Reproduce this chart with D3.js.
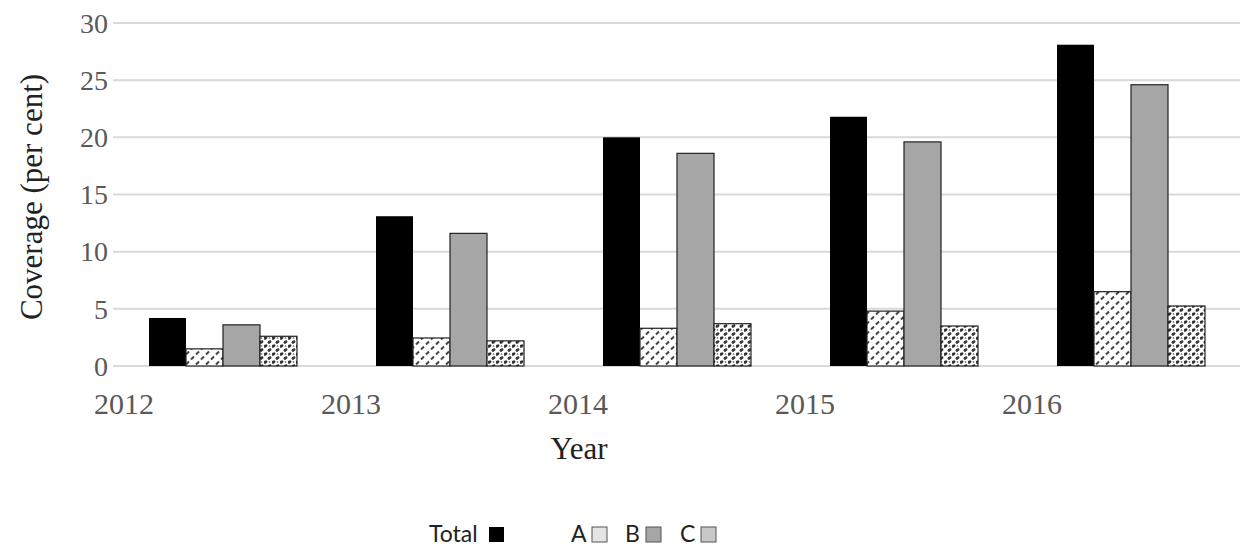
<!DOCTYPE html>
<html>
<head>
<meta charset="utf-8">
<script src="https://cdn.jsdelivr.net/npm/d3@7"></script>
<style>
  body { margin: 0; background: #fff; }
</style>
</head>
<body>
<div id="chart"></div>
<script>
// datos
const years = ['2012', '2013', '2014', '2015', '2016'];
const seriesNames = ['Total', 'A', 'B', 'C'];
const totalVals = [4.2, 13.1, 20.0, 21.8, 28.1];
const aVals = [1.5, 2.45, 3.3, 4.8, 6.5];
const bVals = [3.6, 11.6, 18.6, 19.6, 24.6];
const cVals = [2.6, 2.2, 3.7, 3.5, 5.25];
const yTicks = [0, 5, 10, 15, 20, 25, 30];

const width = 1240;
const height = 547;

const svg = d3.select('#chart')
    .append('svg')
    .attr('width', width)
    .attr('height', height);

// patrones de relleno
const defs = svg.append('defs');

const patA = defs.append('pattern')
    .attr('id', 'patA')
    .attr('patternUnits', 'userSpaceOnUse')
    .attr('width', 10)
    .attr('height', 10);
patA.append('rect').attr('width', 10).attr('height', 10).attr('fill', '#fff');
[[1, 8], [6, 3]].forEach(([px, py]) => {
    patA.append('line')
        .attr('x1', px).attr('y1', py + 1.5)
        .attr('x2', px + 3).attr('y2', py - 1.5)
        .attr('stroke', '#444')
        .attr('stroke-width', 2);
});

const patC = defs.append('pattern')
    .attr('id', 'patC')
    .attr('patternUnits', 'userSpaceOnUse')
    .attr('width', 8)
    .attr('height', 8);
patC.append('rect').attr('width', 8).attr('height', 8).attr('fill', '#fff');
[[1.5, 2], [5.5, 6]].forEach(([px, py]) => {
    patC.append('ellipse')
        .attr('cx', px).attr('cy', py)
        .attr('rx', 2.1).attr('ry', 1.5)
        .attr('transform', `rotate(-35,${px},${py})`)
        .attr('fill', '#333');
});
patC.append('circle').attr('cx', 5.5).attr('cy', 2).attr('r', 0.9).attr('fill', '#888');

const fills = {Total: '#000', A: 'url(#patA)', B: '#a6a6a6', C: 'url(#patC)'};
const legendFills = {Total: '#000', A: '#e4e4e4', B: '#a6a6a6', C: '#c8c8c8'};
const valores = {Total: totalVals, A: aVals, B: bVals, C: cVals};

// escalas
const y = d3.scaleLinear().domain([0, 30]).range([366, 23]);
const x = d3.scaleBand().domain(years).range([124, 1259]).paddingInner(0);
const xSub = d3.scaleBand().domain(seriesNames).range([0, 148]);
const offset = 25;

// lineas de la cuadricula
svg.append('g')
    .selectAll('line')
    .data(yTicks)
    .join('line')
    .attr('x1', 113)
    .attr('x2', 1240)
    .attr('y1', d => y(d))
    .attr('y2', d => y(d))
    .attr('stroke', '#d9d9d9')
    .attr('stroke-width', 2);

// etiquetas eje Y
svg.append('g')
    .selectAll('text')
    .data(yTicks)
    .join('text')
    .attr('x', 108)
    .attr('y', d => y(d))
    .attr('dy', '0.35em')
    .attr('text-anchor', 'end')
    .attr('font-family', 'Liberation Serif, serif')
    .attr('font-size', 28)
    .attr('fill', '#595959')
    .text(d => d);

// barras
seriesNames.forEach(s => {
    svg.append('g')
        .selectAll('rect')
        .data(years.map((yr, i) => ({yr, v: valores[s][i]})))
        .join('rect')
        .attr('x', d => x(d.yr) + offset + xSub(s))
        .attr('y', d => y(d.v))
        .attr('width', xSub.bandwidth())
        .attr('height', d => y(0) - y(d.v))
        .attr('fill', fills[s])
        .attr('stroke', s === 'Total' ? 'none' : '#222')
        .attr('stroke-width', 1.2);
});

// etiquetas eje X
svg.append('g')
    .selectAll('text')
    .data(years)
    .join('text')
    .attr('x', d => x(d))
    .attr('y', 414)
    .attr('text-anchor', 'middle')
    .attr('font-family', 'Liberation Serif, serif')
    .attr('font-size', 30)
    .attr('fill', '#595959')
    .text(d => d);

// titulos de ejes
svg.append('text')
    .attr('x', 579)
    .attr('y', 459)
    .attr('text-anchor', 'middle')
    .attr('font-family', 'Liberation Serif, serif')
    .attr('font-size', 31)
    .attr('fill', '#222')
    .text('Year');

svg.append('text')
    .attr('transform', 'translate(42,197) rotate(-90)')
    .attr('text-anchor', 'middle')
    .attr('font-family', 'Liberation Serif, serif')
    .attr('font-size', 31)
    .attr('fill', '#222')
    .text('Coverage (per cent)');

// leyenda
const legendPos = [{s: 'Total', tx: 429, bx: 489}, {s: 'A', tx: 571, bx: 592},
                   {s: 'B', tx: 625, bx: 646}, {s: 'C', tx: 680, bx: 701}];
const leyenda = svg.append('g');
legendPos.forEach(p => {
    leyenda.append('text')
        .attr('x', p.tx)
        .attr('y', 542)
        .attr('font-family', 'Lato, sans-serif')
        .attr('font-size', 23)
        .attr('fill', '#222')
        .text(p.s);
    leyenda.append('rect')
        .attr('x', p.bx)
        .attr('y', 527)
        .attr('width', 15)
        .attr('height', 15)
        .attr('fill', legendFills[p.s])
        .attr('stroke', p.s === 'Total' ? 'none' : '#555')
        .attr('stroke-width', 1);
});
</script>
</body>
</html>
